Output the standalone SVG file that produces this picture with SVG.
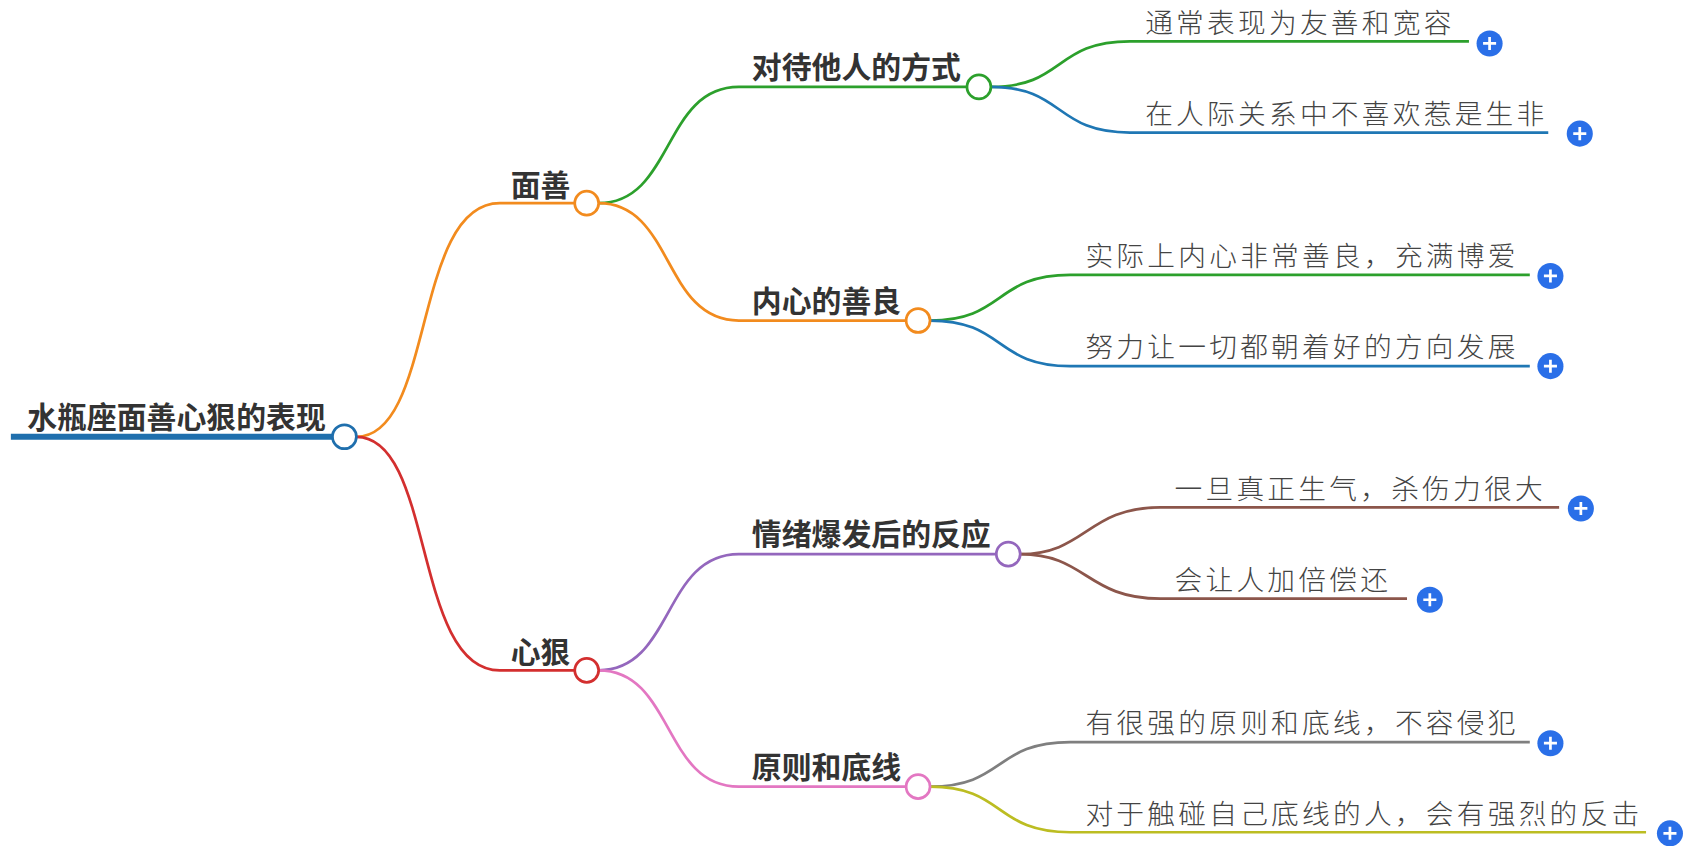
<svg xmlns="http://www.w3.org/2000/svg" width="1695" height="846" viewBox="0 0 1695 846">
<style>
.b{font-family:"Noto Sans CJK SC",sans-serif;font-weight:bold;font-size:27.5px;fill:#333}
.l{font-family:"Noto Sans CJK SC",sans-serif;font-size:25.5px;font-weight:300;fill:#444;letter-spacing:3px}
.c{fill:none;stroke-width:2.5}
.n{fill:#fff;stroke-width:2.5}
.p circle{fill:#2a6fe8}
.p path{stroke:#fff;stroke-width:2.5}
</style>
<defs>
<g id="plus" class="p"><circle r="12"/><path d="M-6 0H6M0-6V6"/></g>
</defs>
<g transform="scale(1.0865)">
<g id="connectors">
<path class="c" stroke="#1f6fad" style="stroke-width:5.5" d="M10 402H306"/>
<path class="c" stroke="#f28b1e" d="M328 402C400 402 380 187 460 187H529"/>
<path class="c" stroke="#d32f2f" d="M328 402C400 402 380 617 460 617H529"/>
<path class="c" stroke="#2ca02c" d="M551 187C620 187 610 80 680 80H890"/>
<path class="c" stroke="#f28b1e" d="M551 187C620 187 610 295 680 295H834"/>
<path class="c" stroke="#9467bd" d="M551 617C620 617 610 510 680 510H917"/>
<path class="c" stroke="#e377c2" d="M551 617C620 617 610 724 680 724H834"/>
<path class="c" stroke="#2ca02c" d="M912 80C980 80 970 38 1040 38H1352"/>
<path class="c" stroke="#1f77b4" d="M912 80C980 80 970 122 1040 122H1425"/>
<path class="c" stroke="#2ca02c" d="M856 295C925 295 915 253 985 253H1408"/>
<path class="c" stroke="#1f77b4" d="M856 295C925 295 915 337 985 337H1408"/>
<path class="c" stroke="#8c564b" d="M939 510C1000 510 1000 467 1068 467H1435"/>
<path class="c" stroke="#8c564b" d="M939 510C1000 510 1000 551 1068 551H1295"/>
<path class="c" stroke="#7f7f7f" d="M856 724C925 724 915 683 985 683H1408"/>
<path class="c" stroke="#bcbd22" d="M856 724C925 724 915 766 985 766H1515"/>
</g>
<g id="root"><text class="b" x="25" y="394">水瓶座面善心狠的表现</text><circle class="n" stroke="#1f6fad" cx="317" cy="402" r="11"/></g>
<g id="n1"><text class="b" x="470" y="180">面善</text><circle class="n" stroke="#f28b1e" cx="540" cy="187" r="11"/></g>
<g id="n2"><text class="b" x="470" y="610">心狠</text><circle class="n" stroke="#d32f2f" cx="540" cy="617" r="11"/></g>
<g id="n11"><text class="b" x="692" y="72">对待他人的方式</text><circle class="n" stroke="#2ca02c" cx="901" cy="80" r="11"/></g>
<g id="n12"><text class="b" x="692" y="287">内心的善良</text><circle class="n" stroke="#f28b1e" cx="845" cy="295" r="11"/></g>
<g id="n21"><text class="b" x="692" y="502">情绪爆发后的反应</text><circle class="n" stroke="#9467bd" cx="928" cy="510" r="11"/></g>
<g id="n22"><text class="b" x="692" y="716">原则和底线</text><circle class="n" stroke="#e377c2" cx="845" cy="724" r="11"/></g>
<g id="l1"><text class="l" x="1054" y="30">通常表现为友善和宽容</text><use href="#plus" x="1371" y="40"/></g>
<g id="l2"><text class="l" x="1054" y="114">在人际关系中不喜欢惹是生非</text><use href="#plus" x="1454" y="123"/></g>
<g id="l3"><text class="l" x="999" y="245">实际上内心非常善良，充满博爱</text><use href="#plus" x="1427" y="254"/></g>
<g id="l4"><text class="l" x="999" y="329">努力让一切都朝着好的方向发展</text><use href="#plus" x="1427" y="337"/></g>
<g id="l5"><text class="l" x="1081" y="459">一旦真正生气，杀伤力很大</text><use href="#plus" x="1455" y="468"/></g>
<g id="l6"><text class="l" x="1081" y="543">会让人加倍偿还</text><use href="#plus" x="1316" y="552"/></g>
<g id="l7"><text class="l" x="999" y="675">有很强的原则和底线，不容侵犯</text><use href="#plus" x="1427" y="684"/></g>
<g id="l8"><text class="l" x="999" y="758">对于触碰自己底线的人，会有强烈的反击</text><use href="#plus" x="1537" y="767"/></g>
</g>
</svg>
